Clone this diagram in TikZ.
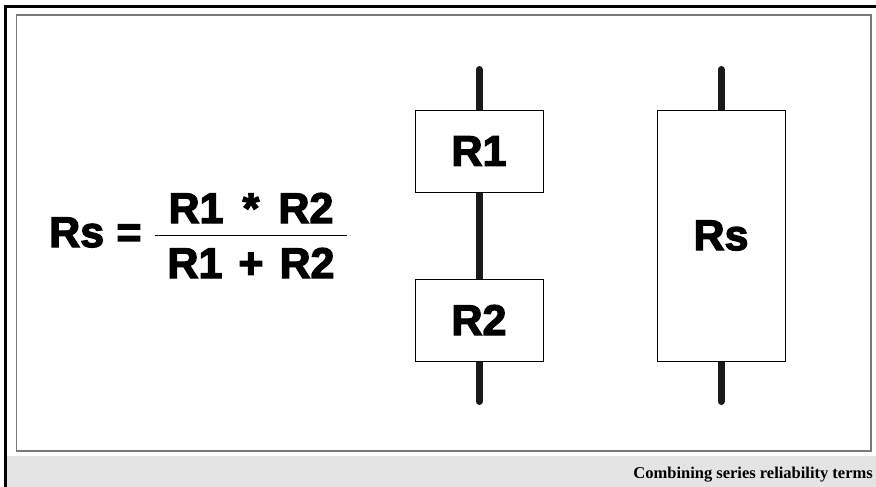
\documentclass[tikz,border=0pt]{standalone}
\usepackage{fontspec}
\usetikzlibrary{backgrounds}
\newfontfamily\heavy{Liberation Sans}[FakeBold=3,BoldFont={Liberation Sans Bold}]
\newfontfamily\capfont{Liberation Serif}
\definecolor{wire}{HTML}{1A1A1A}
\definecolor{frame}{HTML}{7A7A7A}
\definecolor{band}{HTML}{E4E4E4}
\begin{document}
\begin{tikzpicture}[x=1pt,y=-1pt,
  wireline/.style={line width=7pt,line cap=round,draw=wire},
  rbox/.style={draw=black,line width=1pt,fill=white,minimum width=128pt,inner sep=0pt,font=\heavy\bfseries\fontsize{43}{43}\selectfont},
  bigtext/.style={inner sep=0pt,font=\heavy\bfseries\fontsize{43}{43}\selectfont}]
\useasboundingbox (0,0) rectangle (876,487);
% series chain
\coordinate (t1) at (479,69.5);
\coordinate (b1) at (479,401.5);
\node[rbox,minimum height=82pt] (r1) at (479,151) {R1};
\node[rbox,minimum height=82pt] (r2) at (479,320) {R2};
% equivalent
\coordinate (t2) at (721,69.5);
\coordinate (b2) at (721,401.5);
\node[rbox,minimum height=251pt] (rs) at (721,235.5) {Rs};
\begin{scope}[on background layer]
\fill[white] (0,0) rectangle (876,487);
% outer border
\draw[line width=3pt,black] (5,487) -- (5,7) -- (876,7);
% caption band
\fill[band] (6.5,456) rectangle (876,487);
% inner frame
\draw[frame,line width=1.5pt] (16.5,15) rectangle (871,451);
\draw[wireline] (t1) -- (r1.center);
\draw[wireline] (r1.center) -- (r2.center);
\draw[wireline] (r2.center) -- (b1);
\draw[wireline] (t2) -- (rs.center);
\draw[wireline] (rs.center) -- (b2);
\end{scope}
% caption
\node[anchor=base east,inner sep=0pt,font=\capfont\bfseries\fontsize{16.5}{17}\selectfont] (cap) at (873,478) {Combining series reliability terms};
% formula
\node[bigtext,anchor=base west] (lhs) at (49,247) {Rs};
\node[bigtext,anchor=base] (eq) at (129,247) {=};
\node[bigtext,anchor=base] (num) at (251,223) {R1 \,*\, R2};
\node[bigtext,anchor=base] (den) at (251,278) {R1\kern16pt+\kern16pt R2};
\coordinate (fl) at (155,235);
\coordinate (fr) at (347,235);
\draw[line width=1pt,black] (fl) -- (fr);
\end{tikzpicture}
\end{document}
